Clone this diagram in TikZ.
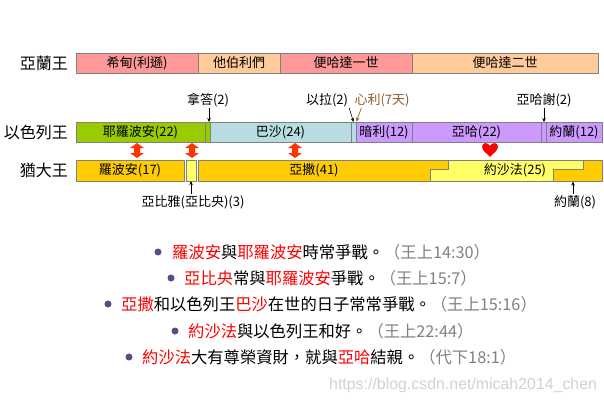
\documentclass[tikz,border=0pt]{standalone}
\usepackage{fontspec}
\setmainfont{Noto Sans CJK TC}
\newfontfamily\wmfont{Liberation Sans}
\usetikzlibrary{arrows.meta}
\definecolor{pinkc}{HTML}{FF9999}
\definecolor{peach}{HTML}{FFCC99}
\definecolor{grn}{HTML}{99CC00}
\definecolor{lblue}{HTML}{B7DDE3}
\definecolor{purp}{HTML}{CC99FF}
\definecolor{orng}{HTML}{FFCC00}
\definecolor{yel}{HTML}{FFFF66}
\definecolor{edgec}{HTML}{808080}
\definecolor{redarr}{HTML}{FF3300}
\definecolor{brownc}{HTML}{8B5A2B}
\definecolor{bulletc}{HTML}{5B4A86}
\definecolor{refgray}{HTML}{808080}
\definecolor{redt}{HTML}{FF0000}
\tikzset{
  barbox/.style={draw=edgec, line width=0.8pt, inner sep=0pt, outer sep=0pt, anchor=north west,
     font=\fontsize{13}{15}\selectfont},
  barline/.style={draw=edgec, line width=0.8pt},
  bartext/.style={inner sep=0pt, font=\fontsize{13}{15}\selectfont},
  rowlabel/.style={anchor=east, inner sep=0pt, font=\fontsize{16}{18}\selectfont},
  toplabel/.style={inner sep=1pt, font=\fontsize{13}{15}\selectfont},
  ptr/.style={-{Stealth[length=4pt,width=3.5pt]}, line width=0.6pt},
  dblarrow/.style={fill=redarr, draw=none},
  line/.style={anchor=west, inner sep=0pt, font=\fontsize{16.3}{18}\selectfont},
  bul/.style={fill=bulletc, draw=none},
}
\newcommand{\rd}[1]{\textcolor{redt}{#1}}
\newcommand{\rf}[1]{\textcolor{refgray}{#1}}
\begin{document}
\begin{tikzpicture}[x=1pt,y=-1pt]
\useasboundingbox (0,0) rectangle (604,402);
% row labels
\node[rowlabel] (aram) at (68,63) {亞蘭王};
\node[rowlabel] (israel) at (68,132) {以色列王};
\node[rowlabel] (judah) at (68,170.5) {猶大王};
% row 1
\node[barbox, fill=pinkc, minimum width=122pt, minimum height=20pt] (rezin) at (76,53) {希甸(利遜)};
\node[barbox, fill=peach, minimum width=82pt, minimum height=20pt] (tabrimmon) at (198,53) {他伯利們};
\node[barbox, fill=pinkc, minimum width=132pt, minimum height=20pt] (bh1) at (280,53) {便哈達一世};
\node[barbox, fill=peach, minimum width=186pt, minimum height=20pt] (bh2) at (412,53) {便哈達二世};
% row 2
\node[barbox, fill=grn, minimum width=129pt, minimum height=20pt] (jeroboam) at (76,122) {耶羅波安(22)};
\node[barbox, fill=grn, minimum width=5pt, minimum height=20pt] (nadab) at (205,122) {};
\node[barbox, fill=lblue, minimum width=141pt, minimum height=20pt] (baasha) at (210,122) {巴沙(24)};
\node[barbox, fill=lblue, minimum width=5pt, minimum height=20pt] (elah) at (351,122) {};
\node[barbox, fill=purp, minimum width=56pt, minimum height=20pt] (omri) at (356,122) {暗利(12)};
\node[barbox, fill=purp, minimum width=129pt, minimum height=20pt] (ahab) at (412,122) {亞哈(22)};
\node[barbox, fill=purp, minimum width=5pt, minimum height=20pt] (ahaziah) at (541,122) {};
\node[barbox, fill=purp, minimum width=56pt, minimum height=20pt] (joram) at (546,122) {約蘭(12)};
% row 3
\node[barbox, fill=orng, minimum width=108pt, minimum height=21pt] (rehoboam) at (76,160) {羅波安(17)};
\node[barbox, fill=yel, minimum width=10pt, minimum height=21pt] (abijah) at (186,160) {};
\path[barline, fill=orng] (198,160) -- (448,160) -- (448,169) -- (430,169) -- (430,181) -- (198,181) -- cycle;
\path[barline, fill=yel] (448,160) -- (583,160) -- (583,169) -- (553,169) -- (553,181) -- (430,181) -- (430,169) -- (448,169) -- cycle;
\path[barline, fill=orng] (583,160) -- (602,160) -- (602,181) -- (553,181) -- (553,169) -- (583,169) -- cycle;
\node[bartext] (asa) at (314,170.5) {亞撒(41)};
\node[bartext] (jehoshaphat) at (515,170.5) {約沙法(25)};
\coordinate (jehoram) at (573,181.5);
\coordinate (zimri) at (356.5,121.5);
% top labels
\node[toplabel] (nadablbl) at (208,100) {拿答(2)};
\node[toplabel] (elahlbl) at (327,100) {以拉(2)};
\node[toplabel, text=brownc] (zimrilbl) at (382,100) {心利(7天)};
\node[toplabel] (ahaziahlbl) at (544,100) {亞哈謝(2)};
\draw[ptr] (nadablbl.south) ++(1,0) coordinate (n0) -- (n0 |- nadab.north);
\draw[ptr] (elahlbl.south east) -- (elah.north);
\draw[ptr, draw=brownc, fill=brownc] ([xshift=8pt]zimrilbl.south west) -- (zimri);
\draw[ptr] (ahaziahlbl.south) -- (ahaziahlbl.south |- ahaziah.north);
% bottom labels
\node[toplabel] (abijahlbl) at (193,202) {亞比雅(亞比央)(3)};
\node[toplabel] (jehoramlbl) at (575,202) {約蘭(8)};
\draw[ptr] (abijahlbl.north -| abijah.south) -- (abijah.south);
\draw[ptr] (jehoramlbl.north -| jehoram) -- (jehoram);
% war arrows
\foreach \cx in {137,192,295}{
  \path[dblarrow] (\cx,143) -- (\cx+7,148) -- (\cx+3,148) -- (\cx+3,153) -- (\cx+7,153) -- (\cx,158)
     -- (\cx-7,153) -- (\cx-3,153) -- (\cx-3,148) -- (\cx-7,148) -- cycle;
}
% heart
\fill[redt] (490,146) .. controls (488,142) and (482,142) .. (482,147)
   .. controls (482,151) and (488,154) .. (490,157)
   .. controls (492,154) and (498,151) .. (498,147)
   .. controls (498,142) and (492,142) .. (490,146) -- cycle;
% text lines
\fill[bul] (158,252) circle (3.5);
\node[line] (l1) at (172,252) {\rd{羅波安}與\rd{耶羅波安}時常爭戰。\rf{（王上14:30）}};
\fill[bul] (171,278) circle (3.5);
\node[line] (l2) at (184,278) {\rd{亞比央}常與\rd{耶羅波安}爭戰。\rf{（王上15:7）}};
\fill[bul] (108,304) circle (3.5);
\node[line] (l3) at (121,304) {\rd{亞撒}和以色列王\rd{巴沙}在世的日子常常爭戰。\rf{（王上15:16）}};
\fill[bul] (175,331) circle (3.5);
\node[line] (l4) at (188,331) {\rd{約沙法}與以色列王和好。\rf{（王上22:44）}};
\fill[bul] (129,357) circle (3.5);
\node[line] (l5) at (142,357) {\rd{約沙法}大有尊榮資財，就與\rd{亞哈}結親。\rf{（代下18:1）}};
% watermark
\node[anchor=west, inner sep=0pt, text=black!18, font=\wmfont\fontsize{15.9}{17}\selectfont] (wm) at (329,385) {https://blog.csdn.net/micah2014\_chen};
\end{tikzpicture}
\end{document}
